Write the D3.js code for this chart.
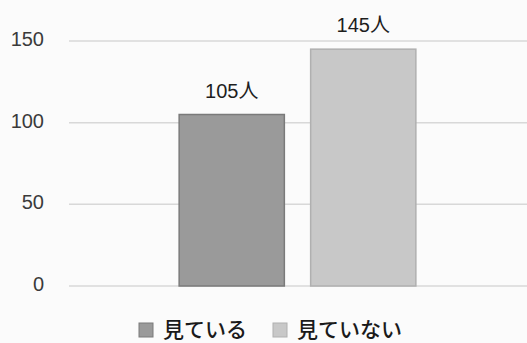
<!DOCTYPE html>
<html>
<head>
<meta charset="utf-8">
<script src="https://cdn.jsdelivr.net/npm/d3@7"></script>
<style>
  body { margin: 0; background: #fbfbfb; }
  svg { display: block; font-family: "Liberation Sans", "Noto Sans CJK JP", sans-serif; }
</style>
</head>
<body>
<svg id="chart" width="527" height="343"></svg>
<script>
const categories = ["見ている", "見ていない"];
const values = [105, 145];
const value_labels = ["105人", "145人"];
const y_ticks = [0, 50, 100, 150];
const fills = ["#9a9a9a", "#c8c8c8"];
const strokes = ["#7a7a7a", "#b0b0b0"];

const svg = d3.select("#chart");

// scales
const x = d3.scaleBand().domain(categories).range([166, 429]).paddingInner(0.2).paddingOuter(0.1);
const y = d3.scaleLinear().domain([0, 150]).range([286, 41]);

// grid lines
svg.selectAll(".grid").data(y_ticks).join("line").classed("grid", true)
    .attr("x1", 69).attr("x2", 527)
    .attr("y1", d => y(d)).attr("y2", d => y(d))
    .attr("stroke", "#d8d8d8").attr("stroke-width", 1.5);

// y tick labels
svg.selectAll(".ytick").data(y_ticks).join("text").classed("ytick", true)
    .attr("x", 44).attr("y", d => y(d) + 5)
    .attr("text-anchor", "end")
    .attr("font-size", 20).attr("fill", "#3a3a3a")
    .text(d => d);

// bars
svg.selectAll(".bar").data(values).join("rect").classed("bar", true)
    .attr("x", (d, i) => x(categories[i]))
    .attr("y", d => y(d))
    .attr("width", x.bandwidth())
    .attr("height", d => y(0) - y(d))
    .attr("fill", (d, i) => fills[i])
    .attr("stroke", (d, i) => strokes[i]).attr("stroke-width", 1.5);

// value labels
svg.selectAll(".vlabel").data(values).join("text").classed("vlabel", true)
    .attr("x", (d, i) => x(categories[i]) + x.bandwidth() / 2)
    .attr("y", d => y(d) - 17)
    .attr("text-anchor", "middle")
    .attr("font-size", 20).attr("fill", "#1e1e1e")
    .text((d, i) => value_labels[i]);

// legend
const legend_x = [139, 273];
const lg = svg.selectAll(".legend").data(categories).join("g").classed("legend", true)
    .attr("transform", (d, i) => "translate(" + legend_x[i] + ",323)");
lg.append("rect").attr("x", 0).attr("y", 0).attr("width", 14).attr("height", 14)
    .attr("fill", (d, i) => fills[i]).attr("stroke", (d, i) => strokes[i]);
lg.append("text").attr("x", 24).attr("y", 14)
    .attr("font-family", "Noto Sans CJK JP").attr("font-weight", 500)
    .attr("font-size", 21).attr("fill", "#1a1a1a")
    .text(d => d);
</script>
</body>
</html>
